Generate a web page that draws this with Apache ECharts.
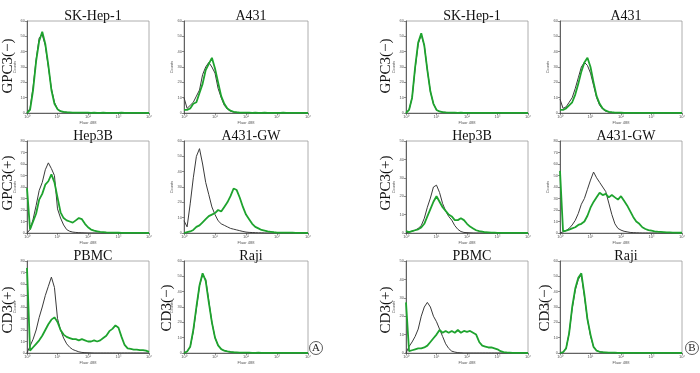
<!DOCTYPE html>
<html><head><meta charset="utf-8">
<script src="https://cdn.jsdelivr.net/npm/echarts@6/dist/echarts.min.js"></script>
<style>html,body{margin:0;padding:0;background:#fff}#c{width:700px;height:373px}</style>
</head><body><div id="c"></div>
<script>
// x positions in decades (log10 of fluorescence), 10^0 .. 10^4
const decades = [0,0.1,0.2,0.3,0.4,0.5,0.6,0.7,0.8,0.9,1.0,1.1,1.2,1.3,1.4,1.5,1.6,1.7,1.8,1.9,2.0,2.1,2.2,2.3,2.4,2.5,2.6,2.7,2.8,2.9,3.0,3.1,3.2,3.3,3.4,3.5,3.6,3.7,3.8,3.9,4.0];
const xTickLabels = ['10\u2070','10\u00b9','10\u00b2','10\u00b3','10\u2074'];
const titles = ['SK-Hep-1','A431','Hep3B','A431-GW','PBMC','Raji','SK-Hep-1','A431','Hep3B','A431-GW','PBMC','Raji'];
const rowLabels = ['GPC3(\u2212)','GPC3(+)','CD3(+)'];
const yMaxes = [60,60,80,60,80,60, 60,60,50,80,50,60];

// Panel A
const A1_black = [0,3,17,35,49,51,44,30,16,7, 2.5,1,0.6,0.4,0.3,0.2,0.2,0.1,0.1,0.1, 0,0,0,0,0,0,0,0,0,0, 0,0,0,0,0,0,0,0,0,0, 0];
const A1_green = [0,2,15,34,47,53,45,31,15,6, 2.5,1.2,0.8,0.5,0.4,0.3,0.3,0.2,0.3,0.2, 0.2,0.1,0.2,0.1,0.1,0.2,0.1,0.1,0.1,0.1, 0.1,0.2,0.1,0.1,0.1,0.1,0.1,0.1,0.1,0.1, 0];
const A2_black = [10,3,5,7,11,15,25,30,33,30, 26,16,10,5,2.5,1.2,0.6,0.3,0.2,0.1, 0.1,0,0,0,0,0,0,0,0,0, 0,0,0,0,0,0,0,0,0,0, 0];
const A2_green = [2,2,3,6,7,13,19,28,32,36, 29,20,11,6,3,1.5,0.8,0.5,0.3,0.2, 0.2,0.2,0.1,0.2,0.1,0.1,0.2,0.1,0.1,0.1, 0.1,0.1,0.2,0.1,0.1,0.1,0.1,0.1,0.1,0.1, 0];
const A3_black = [0,3,12,24,37,44,55,61,56,50, 21,13,7,3,1.5,0.8,0.5,0.3,0.2,0.1, 0,0,0,0,0,0,0,0,0,0, 0,0,0,0,0,0,0,0,0,0, 0];
const A3_green = [39,3,10,17,29,34,42,45,51,44, 31,18,13,11,10,9,11,13,12,8, 5,3,2,1.5,1,0.8,0.5,0.3,0.3,0.2, 0.2,0.1,0.1,0.1,0.1,0.1,0.1,0.1,0.1,0.1, 0];
const A4_black = [8,4,19,36,50,55,45,33,25,17, 12,8,6,5,4,3,2.5,2,1.5,1, 0.6,0.4,0.3,0.2,0.1,0.1,0,0,0,0, 0,0,0,0,0,0,0,0,0,0, 0];
const A4_green = [0,0.5,1,2,4,5,7,9,11,12, 13,15,14,17,20,24,29,28,23,17, 12,9,6,4,3,2,1.5,1,0.8,0.5, 0.3,0.3,0.3,0.2,0.3,0.2,0.1,0.1,0.1,0.1, 0];
const A5_black = [0,6,12,20,31,40,50,58,66,57, 30,20,13,8,5,3,2,1,0.5,0.3, 0.2,0.1,0,0,0,0,0,0,0,0, 0,0,0,0,0,0,0,0,0,0, 0];
const A5_green = [74,2,5,8,11,15,20,25,29,31, 27,20,16,14,13,12,12,11,12,11, 10,10,11,10,11,13,15,19,21,24, 22,14,7,4,3.5,3,3,2.5,2.5,2, 1];
const A6_black = [0,1,4,14,29,44,51,48,34,20, 10,5,2.5,1.5,1,0.6,0.4,0.3,0.2,0.1, 0,0,0,0,0,0,0,0,0,0, 0,0,0,0,0,0,0,0,0,0, 0];
const A6_green = [0,1,4,15,30,44,52,47,33,20, 10,5,2.5,1.5,1,0.7,0.5,0.4,0.3,0.2, 0.2,0.2,0.1,0.1,0.2,0.1,0.1,0.1,0.1,0.1, 0.1,0.1,0.1,0.1,0.1,0.1,0.1,0.1,0.1,0.1, 0];
// Panel B
const B1_black = [0,2,10,29,45,51,44,28,14,6, 2,1,0.6,0.4,0.3,0.2,0.1,0.1,0,0, 0,0,0,0,0,0,0,0,0,0, 0,0,0,0,0,0,0,0,0,0, 0];
const B1_green = [0,2,10,30,46,52,44,28,14,6, 2,1,0.6,0.4,0.3,0.2,0.2,0.1,0.2,0.1, 0.1,0.1,0.1,0.1,0.1,0.1,0.1,0.1,0.1,0.1, 0.1,0.1,0.1,0.1,0.1,0.1,0.1,0.1,0.1,0.1, 0];
const B2_black = [9,3,4,7,10,16,23,30,33,31, 26,18,10,5,2.5,1.2,0.6,0.3,0.2,0.1, 0,0,0,0,0,0,0,0,0,0, 0,0,0,0,0,0,0,0,0,0, 0];
const B2_green = [2,2,3,5,7,12,19,27,33,36, 30,20,11,6,3,1.5,0.8,0.5,0.3,0.2, 0.2,0.1,0.1,0.1,0.1,0.1,0.1,0.1,0.1,0.1, 0.1,0.1,0.1,0.1,0.1,0.1,0.1,0.1,0.1,0.1, 0];
const B3_black = [0,0.5,1,1.5,2.5,4,8,14,19,25, 26,22,16,12,9,7,4,2,0.8,0.3, 0.2,0.1,0,0,0,0,0,0,0,0, 0,0,0,0,0,0,0,0,0,0, 0];
const B3_green = [1,0.5,1,1.5,2,3,5,9,13,17, 20,17,14,12,10,9,7,7,8,7, 5,3.5,2.5,1.5,1,0.7,0.4,0.3,0.2,0.2, 0.1,0.1,0.1,0.1,0.1,0.1,0.1,0.1,0.1,0.1, 0];
const B4_black = [0,1,2,4,7,11,17,25,30,38, 46,53,48,44,40,36,26,16,8,4, 2.5,1.5,1,0.5,0.3,0.2,0.1,0,0,0, 0,0,0,0,0,0,0,0,0,0, 0];
const B4_green = [54,1.5,2,3,4,5,7,8,10,15, 22,27,31,35,33,34,31,33,31,29, 32,28,24,19,14,10,8,5,3.5,2.5, 2,1.5,1.2,1,0.8,0.6,0.5,0.4,0.3,0.2, 0.2];
const B5_black = [0,3.5,6,9,13,20,25,27.5,25,20, 17,13,9,5,2.5,1,0.5,0.2,0.1,0, 0,0,0,0,0,0,0,0,0,0, 0,0,0,0,0,0,0,0,0,0, 0];
const B5_green = [27.5,1,1.5,2,2.5,2.5,3,4,6,8, 10,12.5,11,12,11,12,11,12.5,11,12, 11.5,12,11,10,6,4,3.5,3,3,2.5, 2,1,0.5,0.3,0.2,0.1,0.1,0.1,0.1,0.1, 0];
const B6_black = [0,0.5,3,13,29,41,48,51,37,22, 11,4,1.5,0.8,0.5,0.3,0.2,0.1,0,0, 0,0,0,0,0,0,0,0,0,0, 0,0,0,0,0,0,0,0,0,0, 0];
const B6_green = [0,0.5,3,13,30,42,49,52,38,22, 12,4,1.5,0.8,0.5,0.4,0.3,0.2,0.2,0.1, 0.1,0.1,0.1,0.1,0.1,0.1,0.1,0.1,0.1,0.1, 0.1,0.1,0.1,0.1,0.1,0.1,0.1,0.1,0.1,0.1, 0];

const blacks = [A1_black,A2_black,A3_black,A4_black,A5_black,A6_black,B1_black,B2_black,B3_black,B4_black,B5_black,B6_black];
const greens = [A1_green,A2_green,A3_green,A4_green,A5_green,A6_green,B1_green,B2_green,B3_green,B4_green,B5_green,B6_green];

// layout (pixels)
const colLefts = [27,184,406,560];
const colWidths = [122,124,122,122];
const rowTops = [21,141,261];
const boxH = 92;

const chart = echarts.init(document.getElementById('c'), null, {renderer:'canvas'});
const grids=[], xAxes=[], yAxes=[], series=[], titleArr=[], graphics=[];
const serif = '"Liberation Serif", "DejaVu Serif", serif';
for (let p=0;p<12;p++){
  const panel = p<6?0:1, k=p%6, row=Math.floor(k/2), col=panel*2 + (k%2);
  const left=colLefts[col], w=colWidths[col], top=rowTops[row];
  grids.push({left:left, top:top, width:w, height:boxH, show:true, borderColor:'#9a9a9a', borderWidth:0.8, containLabel:false, outerBoundsMode:'none'});
  xAxes.push({gridIndex:p, type:'value', min:0, max:4, interval:1,
    axisLine:{show:true, onZero:false, lineStyle:{color:'#444', width:0.8}},
    axisTick:{show:true, length:2, lineStyle:{color:'#444', width:0.6}},
    minorTick:{show:true, splitNumber:5, length:1, lineStyle:{color:'#666', width:0.5}},
    splitLine:{show:false},
    axisLabel:{fontSize:4, color:'#555', margin:2, formatter:v=>xTickLabels[Math.round(v)]},
    name:'Fluor 488', nameLocation:'middle', nameGap:8, nameTextStyle:{fontSize:4, color:'#555'}});
  yAxes.push({gridIndex:p, type:'value', min:0, max:yMaxes[p], interval:10,
    axisLine:{show:true, lineStyle:{color:'#444', width:0.8}},
    axisTick:{show:true, length:2, lineStyle:{color:'#444', width:0.6}},
    splitLine:{show:false},
    axisLabel:{fontSize:4, color:'#555', margin:2},
    name:'Counts', nameLocation:'middle', nameGap:9, nameTextStyle:{fontSize:4, color:'#555'}});
  series.push({type:'line', xAxisIndex:p, yAxisIndex:p, data:decades.map((d,i)=>[d,blacks[p][i]]),
    showSymbol:false, symbol:'none', lineStyle:{color:'#3a3a3a', width:1}, silent:true, animation:false, z:2});
  series.push({type:'line', xAxisIndex:p, yAxisIndex:p, data:decades.map((d,i)=>[d,greens[p][i]]),
    showSymbol:false, symbol:'none', lineStyle:{color:'#1ea32e', width:1.8}, silent:true, animation:false, z:3});
  titleArr.push({text:titles[p], left:left+w/2, top:top-17, textAlign:'center',
    textStyle:{fontFamily:serif, fontSize:14, fontWeight:'normal', color:'#111'}});
}
// row labels (rotated, reading bottom-to-top)
const labelXs = [8, 386];
const labelYs = [66, 183, 310];
for (let panel=0; panel<2; panel++){
  for (let r=0;r<3;r++){
    graphics.push({type:'text', x:labelXs[panel], y:labelYs[r], rotation:Math.PI/2,
      style:{text:rowLabels[r], fontFamily:serif, fontSize:15, fill:'#111', align:'center', verticalAlign:'middle'}});
  }
}
graphics.push({type:'text', x:167, y:308, rotation:Math.PI/2,
  style:{text:'CD3(\u2212)', fontFamily:serif, fontSize:15, fill:'#111', align:'center', verticalAlign:'middle'}});
graphics.push({type:'text', x:545, y:308, rotation:Math.PI/2,
  style:{text:'CD3(\u2212)', fontFamily:serif, fontSize:15, fill:'#111', align:'center', verticalAlign:'middle'}});
// circled panel letters
[['A',316,348],['B',692,348]].forEach(([t,x,y])=>{
  graphics.push({type:'circle', shape:{cx:x, cy:y, r:6.5}, style:{fill:'#fff', stroke:'#333', lineWidth:0.8}});
  graphics.push({type:'text', x:x, y:y+0.5, style:{text:t, fontFamily:serif, fontSize:11, fill:'#222', align:'center', verticalAlign:'middle'}});
});

chart.setOption({animation:false, backgroundColor:'#fff', title:titleArr, grid:grids, xAxis:xAxes, yAxis:yAxes, series:series, graphic:graphics});
</script></body></html>
